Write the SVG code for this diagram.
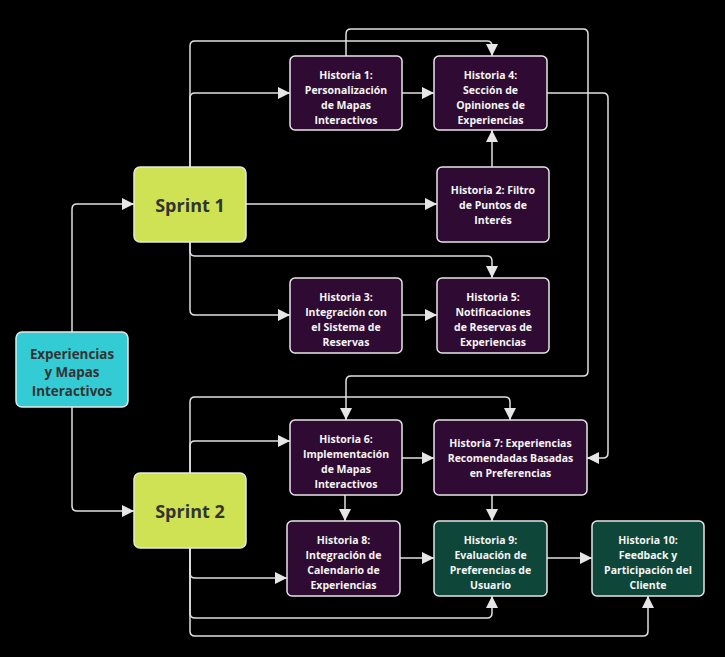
<svg xmlns="http://www.w3.org/2000/svg" width="725" height="657" viewBox="0 0 725 657">
<defs>
<marker id="ah" markerUnits="userSpaceOnUse" markerWidth="12" markerHeight="12" refX="12" refY="6" orient="auto">
<path d="M0,0 L12,6 L0,12 z" fill="#e6e6e6"/>
</marker>
<style>
.c{fill:none;stroke:#e0e0e0;stroke-width:1.5;marker-end:url(#ah)}
.b{stroke:#e6e6e6;stroke-width:1.5}
.st{fill:#2f0b33}
.gr{fill:#0e4739}
.t{font-family:"Open Sans","Noto Sans","Liberation Sans",sans-serif;font-weight:bold;text-anchor:middle}
.ts{font-size:10.5px;fill:#f5f5f5}
.tr{font-size:13.4px;fill:#333333}
.tp{font-size:18px;fill:#333333}
</style>
</defs>
<rect width="725" height="657" fill="#000000"/>
<g id="connectors">
<path class="c" d="M72,332 V209 Q72,204 77,204 H134"/>
<path class="c" d="M72,407 V506 Q72,511 77,511 H134"/>
<path class="c" d="M190,167 V98 Q190,93 195,93 H290"/>
<path class="c" d="M190,167 V46 Q190,41 195,41 H487 Q492,41 492,46 V56"/>
<path class="c" d="M346,56 V34 Q346,29 351,29 H583 Q588,29 588,34 V371 Q588,376 583,376 H351 Q346,376 346,381 V420"/>
<path class="c" d="M402,93 H434"/>
<path class="c" d="M492,167 V130"/>
<path class="c" d="M246,204 H437"/>
<path class="c" d="M190,242 V251 Q190,256 195,256 H487 Q492,256 492,261 V278"/>
<path class="c" d="M190,242 V310 Q190,315 195,315 H290"/>
<path class="c" d="M402,315 H437"/>
<path class="c" d="M547,93 H603 Q608,93 608,98 V453 Q608,458 603,458 H587"/>
<path class="c" d="M190,473 V402 Q190,397 195,397 H505 Q510,397 510,402 V420"/>
<path class="c" d="M190,473 V446 Q190,441 195,441 H290"/>
<path class="c" d="M402,458 H434"/>
<path class="c" d="M345,495 V521"/>
<path class="c" d="M492,495 V521"/>
<path class="c" d="M190,548 V573 Q190,578 195,578 H287"/>
<path class="c" d="M400,558 H434"/>
<path class="c" d="M190,548 V613 Q190,618 195,618 H487 Q492,618 492,613 V596"/>
<path class="c" d="M190,548 V631 Q190,636 195,636 H643 Q648,636 648,631 V596"/>
<path class="c" d="M547,558 H592"/>
</g>
<g id="root">
<rect class="b" x="16" y="332" width="112" height="75" rx="6" fill="#33ccd4"/>
<text class="t tr"><tspan x="72" y="358.5">Experiencias</tspan><tspan x="72" y="377.2">y Mapas</tspan><tspan x="72" y="395.9">Interactivos</tspan></text>
</g>
<g id="sprint1">
<rect class="b" x="134" y="167" width="112" height="75" rx="6" fill="#cfe254"/>
<text class="t tp" x="190" y="211.5">Sprint 1</text>
</g>
<g id="sprint2">
<rect class="b" x="134" y="473" width="112" height="75" rx="6" fill="#cfe254"/>
<text class="t tp" x="190" y="517.5">Sprint 2</text>
</g>
<g id="h1">
<rect class="b st" x="290" y="56" width="112" height="74" rx="5"/>
<text class="t ts"><tspan x="346" y="79">Historia 1:</tspan><tspan x="346" y="94">Personalización</tspan><tspan x="346" y="109">de Mapas</tspan><tspan x="346" y="124">Interactivos</tspan></text>
</g>
<g id="h4">
<rect class="b st" x="434" y="56" width="113" height="74" rx="5"/>
<text class="t ts"><tspan x="490.5" y="79">Historia 4:</tspan><tspan x="490.5" y="94">Sección de</tspan><tspan x="490.5" y="109">Opiniones de</tspan><tspan x="490.5" y="124">Experiencias</tspan></text>
</g>
<g id="h2">
<rect class="b st" x="437" y="167" width="112" height="75" rx="5"/>
<text class="t ts"><tspan x="493" y="194">Historia 2: Filtro</tspan><tspan x="493" y="209">de Puntos de</tspan><tspan x="493" y="224">Interés</tspan></text>
</g>
<g id="h3">
<rect class="b st" x="290" y="278" width="112" height="75" rx="5"/>
<text class="t ts"><tspan x="346" y="301">Historia 3:</tspan><tspan x="346" y="316">Integración con</tspan><tspan x="346" y="331">el Sistema de</tspan><tspan x="346" y="346">Reservas</tspan></text>
</g>
<g id="h5">
<rect class="b st" x="437" y="278" width="112" height="75" rx="5"/>
<text class="t ts"><tspan x="493" y="301">Historia 5:</tspan><tspan x="493" y="316">Notificaciones</tspan><tspan x="493" y="331">de Reservas de</tspan><tspan x="493" y="346">Experiencias</tspan></text>
</g>
<g id="h6">
<rect class="b st" x="290" y="420" width="112" height="75" rx="5"/>
<text class="t ts"><tspan x="346" y="443">Historia 6:</tspan><tspan x="346" y="458">Implementación</tspan><tspan x="346" y="473">de Mapas</tspan><tspan x="346" y="488">Interactivos</tspan></text>
</g>
<g id="h7">
<rect class="b st" x="434" y="420" width="153" height="75" rx="5"/>
<text class="t ts"><tspan x="510.5" y="447">Historia 7: Experiencias</tspan><tspan x="510.5" y="462">Recomendadas Basadas</tspan><tspan x="510.5" y="477">en Preferencias</tspan></text>
</g>
<g id="h8">
<rect class="b st" x="287" y="521" width="113" height="75" rx="5"/>
<text class="t ts"><tspan x="343.5" y="544">Historia 8:</tspan><tspan x="343.5" y="559">Integración de</tspan><tspan x="343.5" y="574">Calendario de</tspan><tspan x="343.5" y="589">Experiencias</tspan></text>
</g>
<g id="h9">
<rect class="b gr" x="434" y="521" width="113" height="75" rx="5"/>
<text class="t ts"><tspan x="490.5" y="544">Historia 9:</tspan><tspan x="490.5" y="559">Evaluación de</tspan><tspan x="490.5" y="574">Preferencias de</tspan><tspan x="490.5" y="589">Usuario</tspan></text>
</g>
<g id="h10">
<rect class="b gr" x="592" y="521" width="112" height="75" rx="5"/>
<text class="t ts"><tspan x="648" y="544">Historia 10:</tspan><tspan x="648" y="559">Feedback y</tspan><tspan x="648" y="574">Participación del</tspan><tspan x="648" y="589">Cliente</tspan></text>
</g>
</svg>
